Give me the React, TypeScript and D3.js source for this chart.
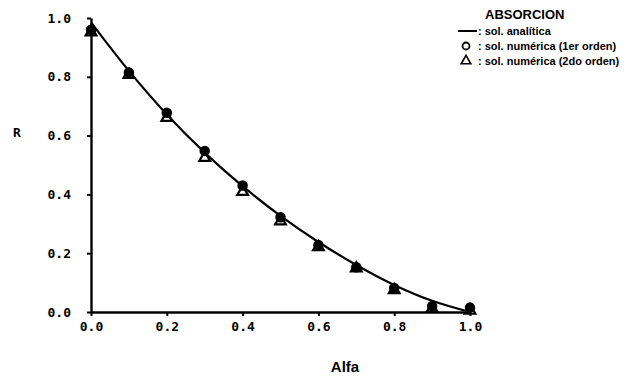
import * as d3 from 'd3';
import { useEffect, useRef } from 'react';

// alfa values shared by every series
const alfa = [0, 0.1, 0.2, 0.3, 0.4, 0.5, 0.6, 0.7, 0.8, 0.9, 1.0];
// sol. analitica
const analitica = [0.985, 0.82, 0.672, 0.542, 0.428, 0.327, 0.238, 0.16, 0.092, 0.038, 0.0];
// sol. numerica (1er orden)
const orden1 = [0.96, 0.815, 0.678, 0.548, 0.43, 0.322, 0.228, 0.152, 0.082, 0.02, 0.015];
// sol. numerica (2do orden)
const orden2 = [0.955, 0.81, 0.664, 0.528, 0.412, 0.312, 0.224, 0.152, 0.078, 0.015, 0.008];
const ticks = [0, 0.2, 0.4, 0.6, 0.8, 1.0];
const legendLabels = [': sol. analítica', ': sol. numérica (1er orden)', ': sol. numérica (2do orden)'];

const App = () => {
    const ref = useRef<SVGSVGElement>(null);

    useEffect(() => {
        const svg = d3.select(ref.current);
        svg.selectAll('*').remove();

        const x = d3.scaleLinear().domain([0, 1]).range([91, 470]);
        const y = d3.scaleLinear().domain([0, 1]).range([312, 18]);
        const tickFont = '"DejaVu Sans Mono", monospace';

        // y axis
        const yAxis = svg.append('g')
            .attr('transform', `translate(${x(0)},0)`)
            .call(d3.axisLeft(y).tickValues(ticks).tickSize(4).tickSizeOuter(0).tickPadding(16).tickFormat(d3.format('.1f')));
        yAxis.select('.domain').attr('stroke-width', 2.4).attr('stroke', '#000');
        yAxis.selectAll('line').attr('stroke-width', 2);
        yAxis.selectAll('text')
            .style('font-family', tickFont)
            .style('font-weight', 'bold')
            .style('font-size', '13px')
            .attr('fill', '#000');

        // x axis
        const xAxis = svg.append('g')
            .attr('transform', `translate(0,${y(0)})`)
            .call(d3.axisBottom(x).tickValues(ticks).tickSize(4).tickSizeOuter(0).tickPadding(6).tickFormat(d3.format('.1f')));
        xAxis.select('.domain').attr('stroke-width', 2.4).attr('stroke', '#000');
        xAxis.selectAll('line').attr('stroke-width', 2);
        xAxis.selectAll('text')
            .style('font-family', tickFont)
            .style('font-weight', 'bold')
            .style('font-size', '13px')
            .attr('fill', '#000');

        // axis labels
        svg.append('text')
            .attr('x', 17)
            .attr('y', 137)
            .attr('text-anchor', 'middle')
            .style('font-family', tickFont)
            .style('font-weight', 'bold')
            .style('font-size', '13px')
            .text('R');

        svg.append('text')
            .attr('x', 345)
            .attr('y', 372)
            .attr('text-anchor', 'middle')
            .style('font-family', '"Liberation Sans", sans-serif')
            .style('font-weight', 'bold')
            .style('font-size', '15px')
            .text('Alfa');

        // analytic curve
        const line = d3.line<number>()
            .x((d, i) => x(alfa[i]))
            .y((d) => y(d))
            .curve(d3.curveMonotoneX);
        svg.append('path')
            .datum(analitica)
            .attr('d', line)
            .attr('fill', 'none')
            .attr('stroke', '#000')
            .attr('stroke-width', 2.2);

        // 1st order: circles
        svg.selectAll('.c1')
            .data(orden1)
            .enter()
            .append('circle')
            .attr('cx', (d, i) => x(alfa[i]))
            .attr('cy', (d) => y(d))
            .attr('r', 4.5)
            .attr('fill', '#000')
            .attr('stroke', '#000')
            .attr('stroke-width', 1.5);

        // 2nd order: triangles
        const tri = d3.symbol().type(d3.symbolTriangle).size(50);
        svg.selectAll('.t2')
            .data(orden2)
            .enter()
            .append('path')
            .attr('d', tri)
            .attr('transform', (d, i) => `translate(${x(alfa[i])},${y(d) + 1})`)
            .attr('fill', 'none')
            .attr('stroke', '#000')
            .attr('stroke-width', 2.2);

        // legend
        const legendFont = '"Liberation Sans Narrow", "Liberation Sans", sans-serif';
        svg.append('text')
            .attr('x', 485)
            .attr('y', 19)
            .style('font-family', legendFont)
            .style('font-weight', 'bold')
            .style('font-size', '13px')
            .text('ABSORCION');

        const legend = svg.append('g');
        legendLabels.forEach((t, i) => {
            legend.append('text')
                .attr('x', 478)
                .attr('y', 35 + i * 15)
                .style('font-family', legendFont)
                .style('font-weight', 'bold')
                .style('font-size', '11px')
                .text(t);
        });
        legend.append('line')
            .attr('x1', 458).attr('x2', 477)
            .attr('y1', 31).attr('y2', 31)
            .attr('stroke', '#000')
            .attr('stroke-width', 2);
        legend.append('circle')
            .attr('cx', 466).attr('cy', 46)
            .attr('r', 3.5)
            .attr('fill', 'none')
            .attr('stroke', '#000')
            .attr('stroke-width', 1.8);
        legend.append('path')
            .attr('d', d3.symbol().type(d3.symbolTriangle).size(40))
            .attr('transform', 'translate(466,61)')
            .attr('fill', 'none')
            .attr('stroke', '#000')
            .attr('stroke-width', 1.6);
    }, []);

    return (
        <svg ref={ref} width={638} height={378}
            style={{ position: 'absolute', left: 0, top: 0, background: '#fff' }} />
    );
};

export default App;
